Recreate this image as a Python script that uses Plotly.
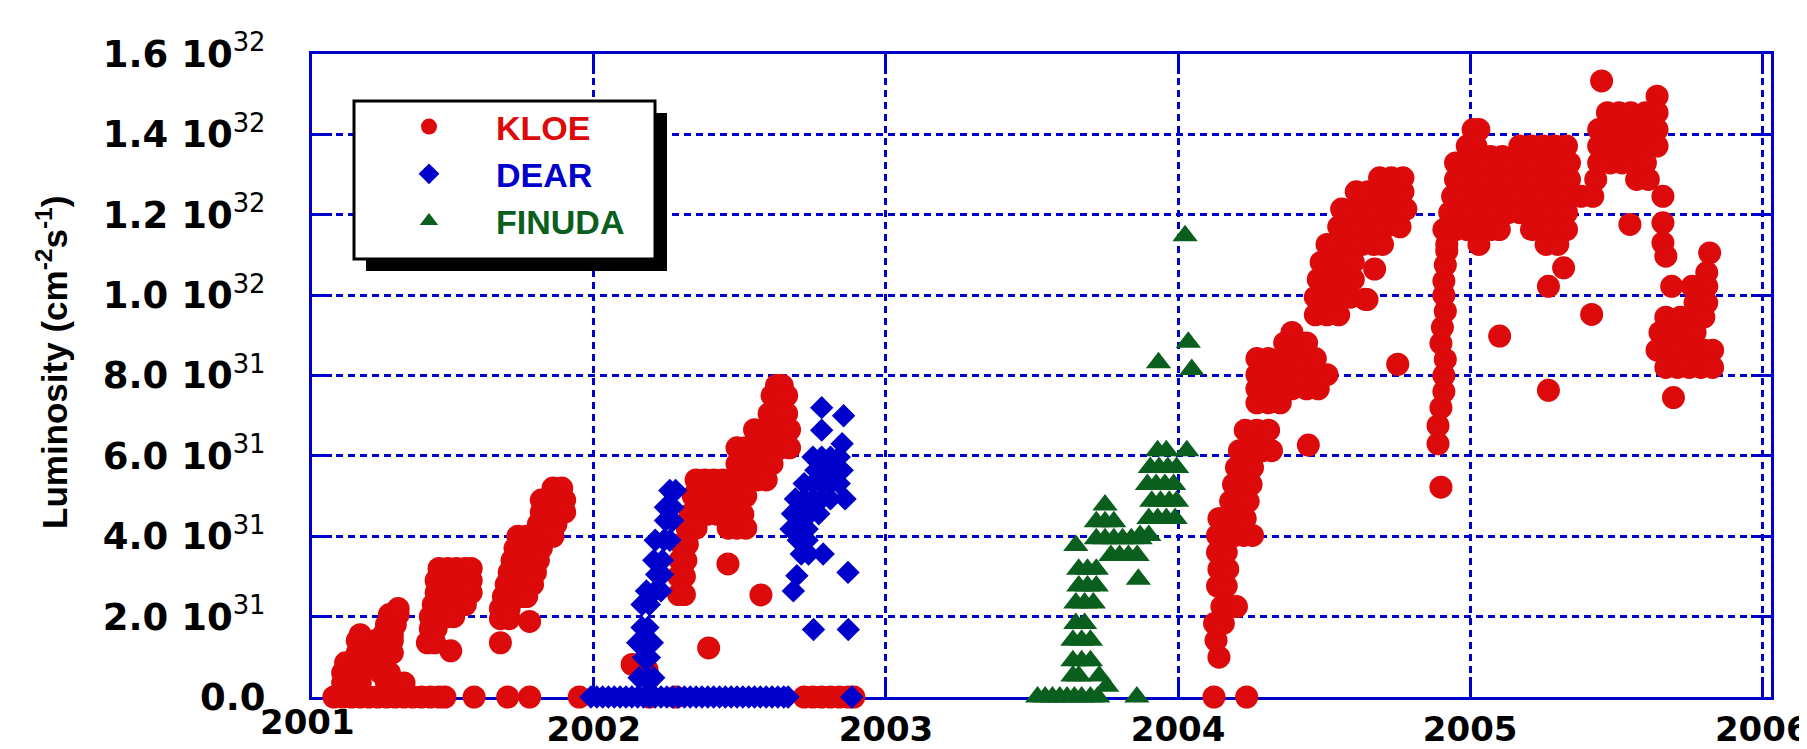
import plotly.graph_objects as go

# ---------------- data (luminosity in units of 1e31 cm^-2 s^-1) ----------------
kloe_year = [
    # 2001 zero-luminosity runs
    2001.11, 2001.14, 2001.17, 2001.20, 2001.23, 2001.26, 2001.29, 2001.32, 2001.35,
    2001.38, 2001.41, 2001.44, 2001.47, 2001.49, 2001.59, 2001.705, 2001.78, 2001.95,
    # 2001 first ramp
    2001.14, 2001.17, 2001.20, 2001.29, 2001.32, 2001.35,
    2001.14, 2001.17, 2001.20, 2001.27, 2001.30,
    2001.15, 2001.18, 2001.21, 2001.24, 2001.27,
    2001.19, 2001.22, 2001.25, 2001.28, 2001.31,
    2001.19, 2001.22, 2001.25, 2001.28, 2001.31,
    2001.20, 2001.28, 2001.31,
    2001.29, 2001.32, 2001.30, 2001.33, 2001.33,
    # 2001 second cluster
    2001.47, 2001.50, 2001.53, 2001.56, 2001.58,
    2001.46, 2001.49, 2001.52, 2001.55, 2001.58,
    2001.46, 2001.49, 2001.52, 2001.55, 2001.58,
    2001.45, 2001.48, 2001.51, 2001.54, 2001.56,
    2001.44, 2001.47, 2001.50, 2001.52,
    2001.44, 2001.46, 2001.43, 2001.455, 2001.51,
    # 2001 third cluster
    2001.86, 2001.89,
    2001.82, 2001.85, 2001.88, 2001.90,
    2001.82, 2001.85, 2001.88, 2001.90,
    2001.81, 2001.84, 2001.87,
    2001.74, 2001.77, 2001.80, 2001.83, 2001.86,
    2001.73, 2001.76, 2001.79, 2001.82,
    2001.72, 2001.75, 2001.78, 2001.81,
    2001.71, 2001.74, 2001.77, 2001.80,
    2001.70, 2001.73, 2001.76, 2001.79,
    2001.69, 2001.72, 2001.75, 2001.77,
    2001.68, 2001.71,
    2001.68, 2001.71, 2001.78, 2001.68,
    # 2002 zeros and isolated points
    2002.19, 2002.28, 2002.72, 2002.75, 2002.78, 2002.81, 2002.84, 2002.87, 2002.89,
    2002.131, 2002.182, 2002.393, 2002.459, 2002.572,
    # 2002 ramp
    2002.625, 2002.645,
    2002.61, 2002.635, 2002.66,
    2002.60, 2002.63, 2002.66,
    2002.55, 2002.58, 2002.61, 2002.64, 2002.67,
    2002.49, 2002.52, 2002.55, 2002.58, 2002.61, 2002.64, 2002.67,
    2002.49, 2002.52, 2002.55, 2002.58, 2002.61,
    2002.35, 2002.38, 2002.41, 2002.44, 2002.47, 2002.50, 2002.53, 2002.56, 2002.59,
    2002.34, 2002.37, 2002.40, 2002.43, 2002.46, 2002.49, 2002.52,
    2002.33, 2002.36, 2002.39, 2002.42, 2002.45, 2002.48, 2002.51,
    2002.32, 2002.35, 2002.46, 2002.49, 2002.52,
    2002.30, 2002.32, 2002.295, 2002.315, 2002.29, 2002.31, 2002.29, 2002.31,
    # 2004 first ramp
    2004.123, 2004.235,
    2004.14, 2004.13, 2004.125, 2004.155,
    2004.15, 2004.18, 2004.20,
    2004.135, 2004.165, 2004.14, 2004.17, 2004.135, 2004.165,
    2004.135, 2004.165, 2004.195, 2004.225, 2004.255,
    2004.14, 2004.17, 2004.20, 2004.23,
    2004.18, 2004.21, 2004.24,
    2004.19, 2004.22, 2004.25,
    2004.20, 2004.23, 2004.255,
    2004.21, 2004.25, 2004.29, 2004.32,
    2004.23, 2004.27, 2004.31,
    2004.27, 2004.31, 2004.35,
    2004.27, 2004.31, 2004.35, 2004.39, 2004.44, 2004.48,
    2004.27, 2004.31, 2004.35, 2004.39, 2004.43, 2004.47, 2004.51,
    2004.27, 2004.31, 2004.35, 2004.39, 2004.43, 2004.47,
    2004.365, 2004.405, 2004.44, 2004.39,
    2004.446, 2004.752,
    # 2004 second ramp
    2004.47, 2004.51, 2004.55,
    2004.47, 2004.51, 2004.55, 2004.59, 2004.64,
    2004.48, 2004.52, 2004.56, 2004.60,
    2004.673,
    2004.49, 2004.53, 2004.57, 2004.60,
    2004.51, 2004.55, 2004.59, 2004.63, 2004.67, 2004.70,
    2004.55, 2004.59, 2004.63, 2004.67, 2004.71, 2004.76,
    2004.56, 2004.60, 2004.64, 2004.68, 2004.72, 2004.76, 2004.78,
    2004.61, 2004.65, 2004.69, 2004.73, 2004.77,
    2004.69, 2004.73, 2004.77,
    2004.647,
    # late 2004 column
    2004.900, 2004.890, 2004.890, 2004.900, 2004.910, 2004.910, 2004.915, 2004.900,
    2004.905, 2004.915, 2004.910, 2004.910, 2004.915, 2004.920,
    # 2005 main cluster
    2005.01, 2005.03,
    2004.99, 2005.02, 2005.17, 2005.21, 2005.25, 2005.29, 2005.33, 2005.07, 2005.11,
    2004.95, 2004.99, 2005.03, 2005.07, 2005.11, 2005.15, 2005.19, 2005.23, 2005.27,
    2005.31, 2005.34,
    2004.95, 2004.99, 2005.03, 2005.07, 2005.11, 2005.15, 2005.19, 2005.23, 2005.27,
    2005.31, 2005.34,
    2004.94, 2004.98, 2005.02, 2005.06, 2005.10, 2005.14, 2005.18, 2005.22, 2005.26,
    2005.30, 2005.34, 2005.38, 2005.42,
    2004.93, 2004.97, 2005.01, 2005.05, 2005.09, 2005.13, 2005.17, 2005.21, 2005.25,
    2005.29, 2005.33,
    2004.91, 2004.95, 2004.99, 2005.03, 2005.07, 2005.10, 2005.21, 2005.25, 2005.29,
    2005.33,
    2004.92, 2005.03, 2005.26, 2005.30,
    # 2005 isolated
    2005.101, 2005.268, 2005.268, 2005.320, 2005.416,
    # 2005 upper right cluster
    2005.45, 2005.64,
    2005.47, 2005.51, 2005.55, 2005.60, 2005.64,
    2005.44, 2005.48, 2005.52, 2005.56, 2005.60, 2005.64,
    2005.44, 2005.48, 2005.52, 2005.56, 2005.60, 2005.64,
    2005.44, 2005.48, 2005.52, 2005.56, 2005.60,
    2005.43, 2005.57, 2005.61,
    2005.66, 2005.547, 2005.66, 2005.66, 2005.67,
    # 2005 end of run
    2005.82, 2005.81,
    2005.69, 2005.76, 2005.81,
    2005.77, 2005.81,
    2005.67, 2005.72, 2005.76, 2005.80,
    2005.65, 2005.69, 2005.73, 2005.77,
    2005.64, 2005.68, 2005.72, 2005.76, 2005.80, 2005.83,
    2005.67, 2005.71, 2005.75, 2005.79, 2005.83,
    2005.696,
]
kloe_lum = [
    0, 0, 0, 0, 0, 0, 0, 0, 0,
    0, 0, 0, 0, 0, 0, 0, 0, 0,
    0.35, 0.35, 0.35, 0.35, 0.35, 0.35,
    0.60, 0.60, 0.60, 0.60, 0.60,
    0.85, 0.85, 0.85, 0.85, 0.85,
    1.10, 1.10, 1.10, 1.10, 1.10,
    1.40, 1.40, 1.40, 1.40, 1.40,
    1.55, 1.55, 1.55,
    1.80, 1.80, 2.05, 2.05, 2.20,
    3.20, 3.20, 3.20, 3.20, 3.20,
    2.90, 2.90, 2.90, 2.90, 2.90,
    2.60, 2.60, 2.60, 2.60, 2.60,
    2.30, 2.30, 2.30, 2.30, 2.30,
    2.00, 2.00, 2.00, 2.00,
    1.70, 1.70, 1.35, 1.35, 1.15,
    5.20, 5.20,
    4.90, 4.90, 4.90, 4.90,
    4.60, 4.60, 4.60, 4.60,
    4.30, 4.30, 4.30,
    4.00, 4.00, 4.00, 4.00, 4.00,
    3.70, 3.70, 3.70, 3.70,
    3.40, 3.40, 3.40, 3.40,
    3.10, 3.10, 3.10, 3.10,
    2.80, 2.80, 2.80, 2.80,
    2.50, 2.50, 2.50, 2.50,
    2.20, 2.20,
    1.95, 1.95, 1.88, 1.35,
    0, 0, 0, 0, 0, 0, 0, 0, 0,
    0.81, 0.68, 1.22, 3.31, 2.54,
    7.75, 7.75,
    7.50, 7.50, 7.50,
    7.05, 7.05, 7.05,
    6.65, 6.65, 6.65, 6.65, 6.65,
    6.20, 6.20, 6.20, 6.20, 6.20, 6.20, 6.20,
    5.80, 5.80, 5.80, 5.80, 5.80,
    5.40, 5.40, 5.40, 5.40, 5.40, 5.40, 5.40, 5.40, 5.40,
    5.00, 5.00, 5.00, 5.00, 5.00, 5.00, 5.00,
    4.55, 4.55, 4.55, 4.55, 4.55, 4.55, 4.55,
    4.20, 4.20, 4.20, 4.20, 4.20,
    3.80, 3.80, 3.40, 3.40, 3.00, 3.00, 2.55, 2.55,
    0, 0,
    0.99, 1.41, 1.83, 1.83,
    2.25, 2.25, 2.25,
    2.76, 2.76, 3.18, 3.18, 3.60, 3.60,
    4.02, 4.02, 4.02, 4.02, 4.02,
    4.44, 4.44, 4.44, 4.44,
    4.87, 4.87, 4.87,
    5.29, 5.29, 5.29,
    5.71, 5.71, 5.71,
    6.13, 6.13, 6.13, 6.13,
    6.64, 6.64, 6.64,
    7.32, 7.32, 7.32,
    7.67, 7.67, 7.67, 7.67, 7.67, 7.67,
    8.02, 8.02, 8.02, 8.02, 8.02, 8.02, 8.02,
    8.42, 8.42, 8.42, 8.42, 8.42, 8.42,
    8.81, 8.81, 8.81, 9.07,
    6.27, 8.28,
    9.51, 9.51, 9.51,
    9.95, 9.95, 9.95, 9.95, 9.90,
    10.39, 10.39, 10.39, 10.39,
    10.65,
    10.82, 10.82, 10.82, 10.82,
    11.26, 11.26, 11.26, 11.26, 11.26, 11.26,
    11.70, 11.70, 11.70, 11.70, 11.70, 11.70,
    12.14, 12.14, 12.14, 12.14, 12.14, 12.14, 12.14,
    12.57, 12.57, 12.57, 12.57, 12.57,
    12.92, 12.92, 12.92,
    9.89,
    5.22, 6.30, 6.75, 7.20, 7.60, 8.00, 8.40, 8.80,
    9.20, 9.60, 10.00, 10.35, 10.75, 11.10,
    14.12, 14.12,
    13.71, 13.71, 13.71, 13.71, 13.71, 13.71, 13.71, 13.45, 13.45,
    13.29, 13.29, 13.29, 13.29, 13.29, 13.29, 13.29, 13.29, 13.29,
    13.29, 13.29,
    12.88, 12.88, 12.88, 12.88, 12.88, 12.88, 12.88, 12.88, 12.88,
    12.88, 12.88,
    12.46, 12.46, 12.46, 12.46, 12.46, 12.46, 12.46, 12.46, 12.46,
    12.46, 12.46, 12.46, 12.46,
    12.05, 12.05, 12.05, 12.05, 12.05, 12.05, 12.05, 12.05, 12.05,
    12.05, 12.05,
    11.63, 11.63, 11.63, 11.63, 11.63, 11.63, 11.63, 11.63, 11.63,
    11.63,
    11.26, 11.26, 11.26, 11.26,
    8.98, 7.63, 10.22, 10.68, 9.52,
    15.33, 14.95,
    14.54, 14.54, 14.54, 14.54, 14.54,
    14.12, 14.12, 14.12, 14.12, 14.12, 14.12,
    13.71, 13.71, 13.71, 13.71, 13.71, 13.71,
    13.29, 13.29, 13.29, 13.29, 13.29,
    12.88, 12.88, 12.88,
    12.46, 11.76, 11.80, 11.30, 10.97,
    11.05, 10.56,
    10.22, 10.22, 10.22,
    9.81, 9.81,
    9.45, 9.45, 9.45, 9.45,
    9.07, 9.07, 9.07, 9.07,
    8.63, 8.63, 8.63, 8.63, 8.63, 8.63,
    8.20, 8.20, 8.20, 8.20, 8.20,
    7.45,
]

dear_year = [
    # zero-luminosity runs
    2001.99, 2002.01, 2002.03, 2002.05, 2002.07, 2002.09, 2002.11, 2002.13, 2002.15,
    2002.17, 2002.19, 2002.21, 2002.23, 2002.25, 2002.27, 2002.29, 2002.31, 2002.33,
    2002.35, 2002.37, 2002.39, 2002.41, 2002.43, 2002.45, 2002.47, 2002.49, 2002.51,
    2002.53, 2002.55, 2002.57, 2002.59, 2002.61, 2002.63, 2002.65, 2002.665, 2002.883,
    # spring 2002 rise
    2002.26, 2002.28, 2002.245, 2002.27, 2002.245, 2002.27,
    2002.21, 2002.24, 2002.26, 2002.205, 2002.235, 2002.215, 2002.235,
    2002.18, 2002.21, 2002.23, 2002.165, 2002.19, 2002.165, 2002.185,
    2002.15, 2002.175, 2002.20, 2002.17, 2002.19, 2002.155, 2002.18, 2002.205,
    # autumn 2002
    2002.78, 2002.855, 2002.78, 2002.85,
    2002.75, 2002.78, 2002.81, 2002.84,
    2002.76, 2002.79, 2002.82, 2002.85,
    2002.72, 2002.75, 2002.78, 2002.81, 2002.84,
    2002.69, 2002.72, 2002.75, 2002.78, 2002.81, 2002.86,
    2002.68, 2002.71, 2002.74, 2002.77,
    2002.675, 2002.70, 2002.73,
    2002.70, 2002.73,
    2002.71, 2002.735, 2002.785,
    2002.695, 2002.87, 2002.683, 2002.752, 2002.871,
]
dear_lum = [
    0, 0, 0, 0, 0, 0, 0, 0, 0,
    0, 0, 0, 0, 0, 0, 0, 0, 0,
    0, 0, 0, 0, 0, 0, 0, 0, 0,
    0, 0, 0, 0, 0, 0, 0, 0, 0,
    5.14, 5.14, 4.72, 4.72, 4.39, 4.39,
    3.90, 3.90, 3.90, 3.40, 3.40, 3.05, 3.05,
    2.64, 2.64, 2.64, 2.30, 2.30, 1.73, 1.73,
    1.35, 1.35, 1.35, 0.98, 0.98, 0.48, 0.48, 0.48,
    7.20, 7.00, 6.64, 6.30,
    5.97, 5.97, 5.97, 5.97,
    5.64, 5.64, 5.64, 5.64,
    5.31, 5.31, 5.31, 5.31, 5.31,
    4.93, 4.93, 4.93, 4.93, 4.93, 4.93,
    4.56, 4.56, 4.56, 4.56,
    4.18, 4.18, 4.18,
    3.90, 3.90,
    3.56, 3.56, 3.56,
    3.02, 3.10, 2.64, 1.68, 1.68,
]

finuda_year = [
    # zero-luminosity runs
    2003.519, 2003.545, 2003.570, 2003.595, 2003.620, 2003.645, 2003.670, 2003.700,
    2003.725, 2003.859,
    # late 2003 rise
    2003.756, 2003.64, 2003.66, 2003.73,
    2003.64, 2003.67, 2003.70, 2003.64, 2003.67, 2003.70,
    2003.65, 2003.68, 2003.65, 2003.68, 2003.71,
    2003.66, 2003.69, 2003.72, 2003.66, 2003.69, 2003.72, 2003.65,
    2003.75, 2003.72, 2003.75, 2003.78,
    2003.72, 2003.75, 2003.78, 2003.81, 2003.84, 2003.87,
    2003.77, 2003.80, 2003.83, 2003.86, 2003.864,
    2003.93, 2003.96, 2004.03,
    2003.905, 2003.935, 2003.965, 2003.995,
    2003.895, 2003.925, 2003.955, 2003.985,
    2003.91, 2003.94, 2003.97, 2003.995,
    2003.90, 2003.93, 2003.96, 2003.99,
    2003.87, 2003.90,
    2003.933, 2004.035, 2004.047, 2004.024,
]
finuda_lum = [
    0, 0, 0, 0, 0, 0, 0, 0,
    0, 0,
    0.27, 0.52, 0.52, 0.52,
    0.90, 0.90, 0.90, 1.41, 1.41, 1.41,
    1.83, 1.83, 2.34, 2.34, 2.34,
    2.76, 2.76, 2.76, 3.18, 3.18, 3.18, 3.77,
    4.78, 4.36, 4.36, 4.36,
    3.94, 3.94, 3.94, 3.94, 3.94, 3.94,
    3.52, 3.52, 3.52, 3.52, 2.93,
    6.13, 6.13, 6.13,
    5.71, 5.71, 5.71, 5.71,
    5.29, 5.29, 5.29, 5.29,
    4.87, 4.87, 4.87, 4.87,
    4.44, 4.44, 4.44, 4.44,
    4.02, 4.02,
    8.32, 8.83, 8.15, 11.48,
]

year_ticks = [2002, 2003, 2004, 2005, 2006]
year_labels = ["2002", "2003", "2004", "2005", "2006"]
first_year_label = "2001"
lum_ticks = [0, 2, 4, 6, 8, 10, 12, 14, 16]
SUP = '<sup><span style="font-weight:normal">{}</span></sup>'
lum_labels = ["0.0",
              "2.0 10" + SUP.format(31), "4.0 10" + SUP.format(31),
              "6.0 10" + SUP.format(31), "8.0 10" + SUP.format(31),
              "1.0 10" + SUP.format(32), "1.2 10" + SUP.format(32),
              "1.4 10" + SUP.format(32), "1.6 10" + SUP.format(32)]

# ---------------- styling / layout ----------------
RED = "#DC0A0A"
BLUE = "#0000CD"
GREEN = "#0A5E1E"

W, H = 1807, 749
ML, MR, MT, MB = 304, 44, 46, 60
PW, PH = W - ML - MR, H - MT - MB
XR = [2001.035, 2006.03]


def px_x(px):
    return (px - ML) / PW


def px_y(py):
    return (H - MB - py) / PH


fig = go.Figure()
fig.add_trace(go.Scatter(
    x=kloe_year, y=kloe_lum, mode="markers", cliponaxis=False,
    name='<span style="color:%s">KLOE</span>' % RED,
    marker=dict(symbol="circle", size=23, color=RED, line=dict(width=0))))
fig.add_trace(go.Scatter(
    x=dear_year, y=dear_lum, mode="markers", cliponaxis=False,
    name='<span style="color:%s">DEAR</span>' % BLUE,
    marker=dict(symbol="diamond", size=18, color=BLUE, line=dict(width=0))))
fig.add_trace(go.Scatter(
    x=finuda_year, y=finuda_lum, mode="markers", cliponaxis=False,
    name='<span style="color:%s">FINUDA</span>' % GREEN,
    marker=dict(symbol="triangle-up", size=22, color=GREEN, line=dict(width=0))))

ytick_font = dict(family="DejaVu Sans", size=37, color="black", weight="bold")
xtick_font = dict(family="DejaVu Sans", size=34, color="black", weight="bold")
axis_common = dict(
    showline=True, linecolor=BLUE, linewidth=3, mirror="ticks",
    ticks="inside", ticklen=20, tickwidth=3, tickcolor=BLUE,
    showgrid=True, gridcolor=BLUE, gridwidth=3, griddash="7px,5px",
    zeroline=False, layer="below traces",
)

fig.update_xaxes(range=XR, tickmode="array", tickvals=year_ticks,
                 ticktext=year_labels, ticklabelstandoff=0,
                 tickfont=xtick_font, **axis_common)
fig.update_yaxes(range=[0, 16], tickmode="array", tickvals=lum_ticks,
                 ticktext=lum_labels, ticklabelstandoff=36,
                 tickfont=ytick_font, **axis_common)

# legend frame with drop shadow
box_l, box_t, box_r, box_b = 346, 93, 647, 251
shadow = 12
fig.add_shape(type="rect", xref="paper", yref="paper", layer="above",
              x0=px_x(box_l + shadow), x1=px_x(box_r + shadow),
              y0=px_y(box_b + shadow), y1=px_y(box_t + shadow),
              fillcolor="black", line=dict(width=0))
fig.add_shape(type="rect", xref="paper", yref="paper", layer="above",
              x0=px_x(box_l), x1=px_x(box_r), y0=px_y(box_b), y1=px_y(box_t),
              fillcolor="white", line=dict(color="black", width=3))

# first year label sits just left of the plotted range
fig.add_annotation(xref="paper", yref="paper",
                   x=(2001 - XR[0]) / (XR[1] - XR[0]), xshift=6,
                   y=0, yshift=-3, yanchor="top", xanchor="center",
                   text=first_year_label, showarrow=False, font=xtick_font)

# y-axis title
fig.add_annotation(xref="paper", yref="paper", x=px_x(44), y=px_y(355),
                   xanchor="center", yanchor="middle", textangle=-90,
                   text="Luminosity (cm<sup>-2</sup>s<sup>-1</sup>)",
                   showarrow=False,
                   font=dict(family="Liberation Sans Narrow, Liberation Sans",
                             size=35, color="black", weight="bold"))

fig.update_layout(
    width=W, height=H,
    margin=dict(l=ML, r=MR, t=MT, b=MB, autoexpand=False),
    paper_bgcolor="white", plot_bgcolor="white",
    showlegend=True,
    legend=dict(x=px_x(354), y=px_y(90), xanchor="left", yanchor="top",
                bgcolor="rgba(0,0,0,0)", borderwidth=0, itemwidth=124,
                font=dict(family="Liberation Sans", size=34, weight="bold"),
                itemclick=False, itemdoubleclick=False),
)

fig.write_html("out.html")
